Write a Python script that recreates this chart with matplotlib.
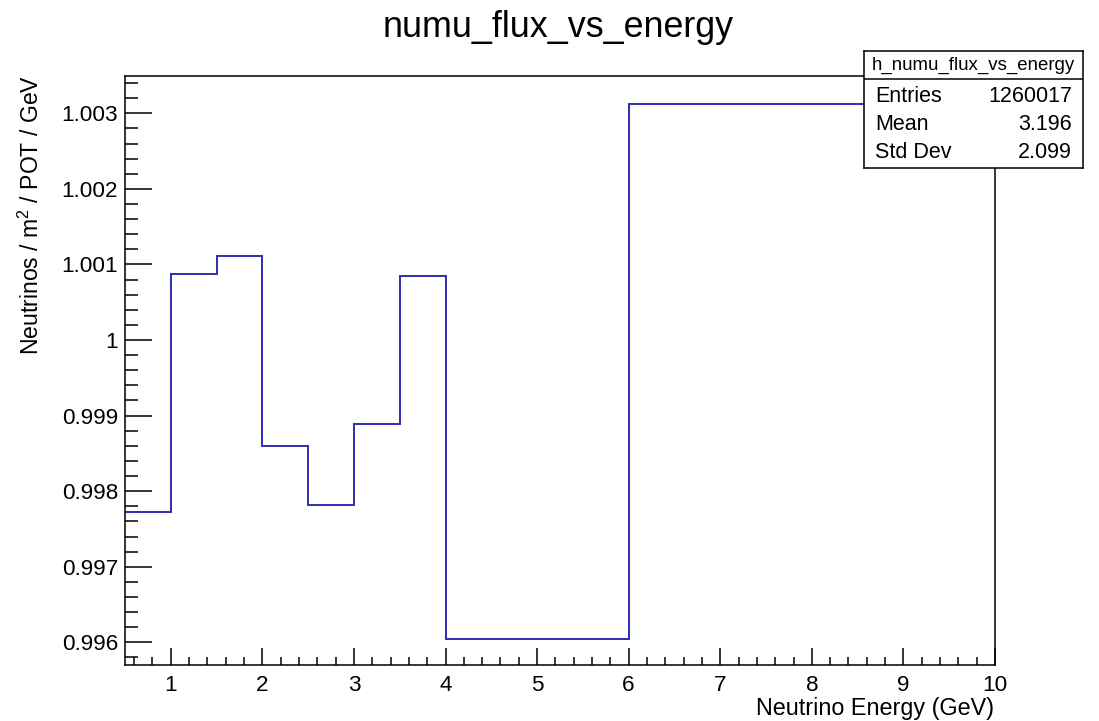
import matplotlib
matplotlib.use("Agg")
import matplotlib.pyplot as plt
from matplotlib.ticker import MultipleLocator, FuncFormatter

# ---- data ----
bin_edges = [0.5, 1.0, 1.5, 2.0, 2.5, 3.0, 3.5, 4.0, 6.0, 10.0]
flux_values = [0.997728, 1.000877, 1.001110, 0.998603, 0.997811,
               0.998894, 1.000841, 0.996048, 1.003119]
title_text = "numu_flux_vs_energy"
xlabel_text = "Neutrino Energy (GeV)"
ylabel_text = "Neutrinos / m$^{2}$ / POT / GeV"
stats_name = "h_numu_flux_vs_energy"
stats_labels = ["Entries", "Mean", "Std Dev"]
stats_values = ["1260017", "3.196", "2.099"]

# ---- style ----
plt.rcParams['font.family'] = ['Liberation Sans', 'DejaVu Sans']
plt.rcParams['mathtext.fontset'] = 'custom'
plt.rcParams['mathtext.rm'] = 'Liberation Sans'
plt.rcParams['mathtext.it'] = 'Liberation Sans'

W, H = 1099, 721
fig = plt.figure(figsize=(W / 100, H / 100), dpi=100)
fig.patch.set_facecolor('white')

L, R, T, B = 125, 995, 75.5, 665
ax = fig.add_axes([L / W, 1 - B / H, (R - L) / W, (B - T) / H])

line_color = '#3333b0'
ax.stairs(flux_values, bin_edges, baseline=None, color=line_color, linewidth=1.45)

ax.set_xlim(0.5, 10.0)
ax.set_ylim(0.995700, 1.003500)

ax.xaxis.set_major_locator(MultipleLocator(1))
ax.xaxis.set_minor_locator(MultipleLocator(0.2))
ax.yaxis.set_major_locator(MultipleLocator(0.001))
ax.yaxis.set_minor_locator(MultipleLocator(0.0002))
ax.xaxis.set_major_formatter(FuncFormatter(lambda v, p: f"{round(v, 3):g}"))
ax.yaxis.set_major_formatter(FuncFormatter(lambda v, p: f"{round(v, 4):g}"))

ax.tick_params(axis='x', which='major', direction='in', length=12.2, width=1.1,
               labelsize=16.2, pad=7, top=False)
ax.tick_params(axis='x', which='minor', direction='in', length=5.8, width=1.1, top=False)
ax.tick_params(axis='y', which='major', direction='in', length=19.4, width=1.1,
               labelsize=16.2, pad=5, right=False)
ax.tick_params(axis='y', which='minor', direction='in', length=9.4, width=1.1, right=False)
for s in ax.spines.values():
    s.set_linewidth(1.1)
    s.set_color('black')

# title and axis labels (ROOT style placement)
fig.text(558 / W, 1 - 37 / H, title_text, ha='center', va='baseline', fontsize=25.8)
fig.text(994 / W, 1 - 708 / H, xlabel_text, ha='right', va='center', fontsize=16.8)
fig.text(31 / W, 1 - 75 / H, ylabel_text, ha='center', va='top', rotation=90, fontsize=16.6)

# stats box
bx0, by0, bx1, by1 = 864, 51, 1083, 168
sax = fig.add_axes([bx0 / W, 1 - by1 / H, (bx1 - bx0) / W, (by1 - by0) / H], zorder=5)
sax.set_xlim(0, bx1 - bx0)
sax.set_ylim(by1 - by0, 0)
sax.set_facecolor('white')
sax.set_xticks([])
sax.set_yticks([])
for s in sax.spines.values():
    s.set_linewidth(1.1)
    s.set_color('black')
sax.axhline(79 - by0, color='black', linewidth=1.1)
sax.text((bx1 - bx0) / 2, 65 - by0, stats_name, ha='center', va='center', fontsize=13.4)
row_y = [96, 124, 153]
for lab, val, yy in zip(stats_labels, stats_values, row_y):
    sax.text(875 - bx0, yy - by0, lab, ha='left', va='center', fontsize=15.5)
    sax.text(1072 - bx0, yy - by0, val, ha='right', va='center', fontsize=15.5)

fig.savefig("out.png", dpi=100, facecolor='white')
